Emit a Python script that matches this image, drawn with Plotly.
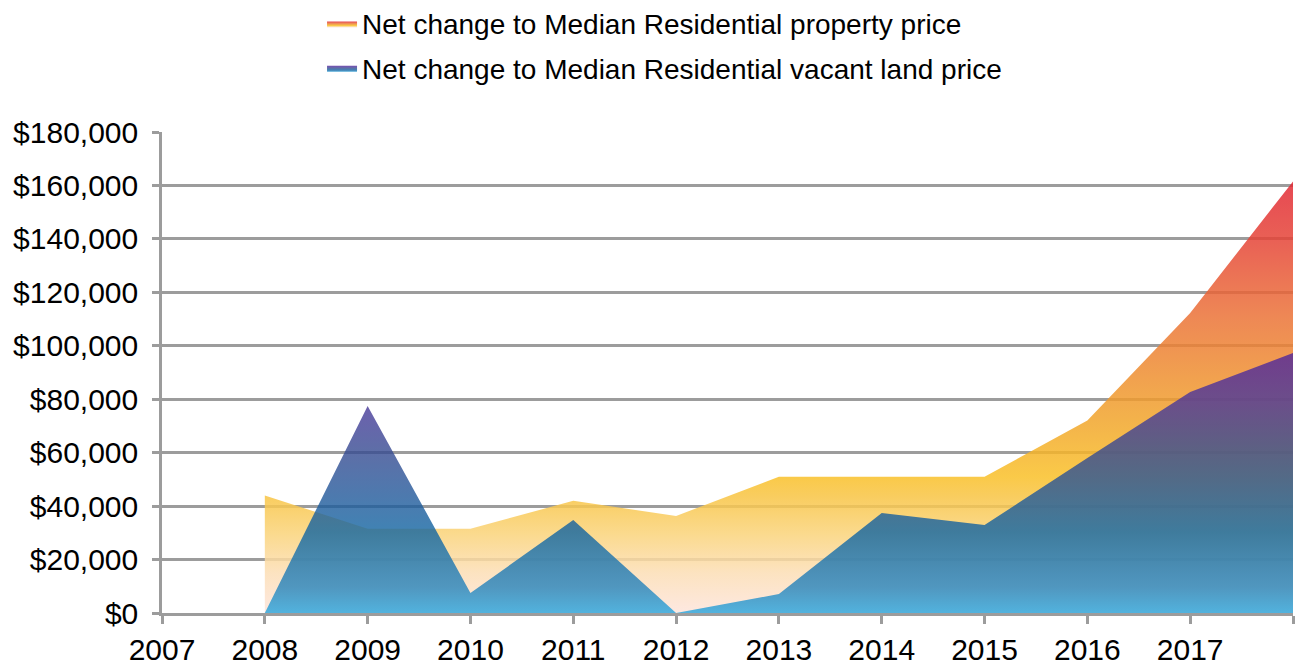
import plotly.graph_objects as go

years = [2008, 2009, 2010, 2011, 2012, 2013, 2014, 2015, 2016, 2017, 2018]
property_change = [44000, 31500, 31500, 42000, 36300, 51000, 51000, 51000, 72000, 112300, 161500]
vacant_change = [0, 77500, 7500, 34800, 0, 7100, 37400, 32900, 58000, 82700, 97300]
tick_years = [2007, 2008, 2009, 2010, 2011, 2012, 2013, 2014, 2015, 2016, 2017, 2018]
tick_labels = ["2007", "2008", "2009", "2010", "2011", "2012", "2013", "2014", "2015", "2016", "2017", ""]
y_ticks = [0, 20000, 40000, 60000, 80000, 100000, 120000, 140000, 160000, 180000]

FONT = "Liberation Sans, Arial, sans-serif"
GRID = "#9c9c9c"

prop_scale = [
    [0.0, "rgba(253,228,219,0.85)"],
    [0.093, "rgba(252,222,181,0.85)"],
    [0.186, "rgba(250,211,120,0.85)"],
    [0.27, "rgba(248,196,67,0.85)"],
    [0.316, "rgba(249,192,40,0.85)"],
    [0.446, "rgba(241,165,43,0.85)"],
    [0.69, "rgba(235,114,55,0.85)"],
    [0.87, "rgba(229,67,55,0.85)"],
    [1.0, "rgba(226,40,52,0.85)"],
]
vac_scale = [
    [0.0, "rgba(39,165,221,0.8)"],
    [0.1, "rgba(37,131,188,0.8)"],
    [0.31, "rgba(16,100,161,0.8)"],
    [0.62, "rgba(53,74,145,0.8)"],
    [0.82, "rgba(74,54,154,0.8)"],
    [1.0, "rgba(80,37,155,0.8)"],
]

fig = go.Figure()
fig.add_trace(go.Scatter(
    x=years, y=property_change, name="Net change to Median Residential property price",
    legendgroup="p", mode="lines", line=dict(width=0), fill="tozeroy",
    fillgradient=dict(type="vertical", start=0, stop=max(property_change), colorscale=prop_scale),
    hoverinfo="skip",
))
fig.add_trace(go.Scatter(
    x=years, y=vacant_change, name="Net change to Median Residential vacant land price",
    legendgroup="v", mode="lines", line=dict(width=0), fill="tozeroy",
    fillgradient=dict(type="vertical", start=0, stop=max(vacant_change), colorscale=vac_scale),
    hoverinfo="skip",
))

fig.update_layout(
    width=1296, height=668,
    margin=dict(l=162, r=3, t=132, b=55, autoexpand=False),
    paper_bgcolor="white", plot_bgcolor="white",
    font=dict(family=FONT, size=30, color="black"),
    showlegend=True,
    legend=dict(
        orientation="v", x=0.1415, xanchor="left", xref="paper",
        y=1.277, yanchor="top", yref="paper",
        font=dict(size=28), itemwidth=30, tracegroupgap=5,
        bgcolor="rgba(0,0,0,0)",
    ),
    xaxis=dict(
        range=[2007, 2018], tickmode="array", tickvals=tick_years, ticktext=tick_labels,
        showgrid=False, zeroline=False, showline=True, linecolor=GRID, linewidth=2.5,
        ticks="outside", ticklen=8, tickwidth=2.5, tickcolor=GRID,
        tickfont=dict(size=30), fixedrange=True,
    ),
    yaxis=dict(
        range=[0, 180000], tickmode="array", tickvals=y_ticks,
        tickformat="$,d", ticklabelstandoff=8,
        showgrid=True, gridcolor=GRID, gridwidth=2.5, zeroline=False,
        showline=True, linecolor=GRID, linewidth=2.5,
        ticks="outside", ticklen=7, tickwidth=2.5, tickcolor=GRID,
        tickfont=dict(size=30), fixedrange=True,
    ),
)

fig.write_html("out.html", config={"displayModeBar": False},
               post_script="document.body.style.margin='0';")
